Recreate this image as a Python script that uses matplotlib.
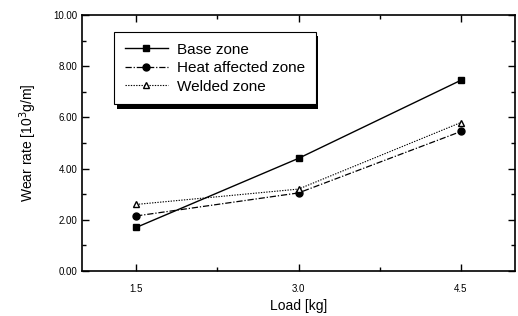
import matplotlib.pyplot as plt
from matplotlib.ticker import MultipleLocator, FixedLocator
import matplotlib.patheffects as pe

# Datos
load = [1.5, 3.0, 4.5]
base_zone = [1.70, 4.40, 7.45]
heat_zone = [2.15, 3.05, 5.45]
weld_zone = [2.60, 3.20, 5.80]
xticks = [1.5, 3.0, 4.5]
xtick_labels = ['1.5', '3.0', '4.5']

plt.rcParams['font.family'] = ['Liberation Sans', 'DejaVu Sans']

fig = plt.figure(figsize=(5.18, 3.16), dpi=100)
ax = fig.add_axes([82/518, 1-271/316, 433/518, 256/316])

ax.plot(load, base_zone, color='black', lw=1.0, marker='s', ms=5, label='Base zone')
ax.plot(load, heat_zone, color='black', lw=0.9, ls=(0, (5, 1.5, 1, 1.5)), marker='o', ms=5, label='Heat affected zone')
ax.plot(load, weld_zone, color='black', lw=0.8, ls=(0, (1.2, 1.2)), marker='^', ms=5,
        mfc='white', label='Welded zone')

ax.set_xlim(1.0, 5.0)
ax.set_ylim(0, 10)
ax.xaxis.set_major_locator(FixedLocator(xticks))
ax.set_xticklabels(xtick_labels)
ax.xaxis.set_minor_locator(FixedLocator([2.25, 3.75]))
ax.yaxis.set_major_locator(MultipleLocator(2))
ax.yaxis.set_minor_locator(MultipleLocator(1))
ax.yaxis.set_major_formatter(lambda v, p: '%.2f' % v)

ax.tick_params(which='both', direction='in', top=True, right=True, labelsize=7, width=1)
ax.tick_params(which='major', length=5)
ax.tick_params(which='minor', length=3)
ax.tick_params(axis='x', pad=9)
for s in ax.spines.values():
    s.set_linewidth(1.2)

ax.set_xlabel('Load [kg]', fontsize=10)
ax.set_ylabel('Wear rate [10$^{3}$g/m]', fontsize=10, labelpad=10)

leg = ax.legend(loc='upper left', bbox_to_anchor=(0.074, 0.934), borderaxespad=0,
                fontsize=11, frameon=True, framealpha=1, fancybox=False, edgecolor='black',
                handlelength=2.8, handletextpad=0.6, labelspacing=0.3, borderpad=0.7)
leg.get_frame().set_linewidth(0.8)
leg.get_frame().set_path_effects([pe.SimplePatchShadow(offset=(2, -3), shadow_rgbFace='black', alpha=1), pe.Normal()])

fig.savefig('out.png', dpi=100)
